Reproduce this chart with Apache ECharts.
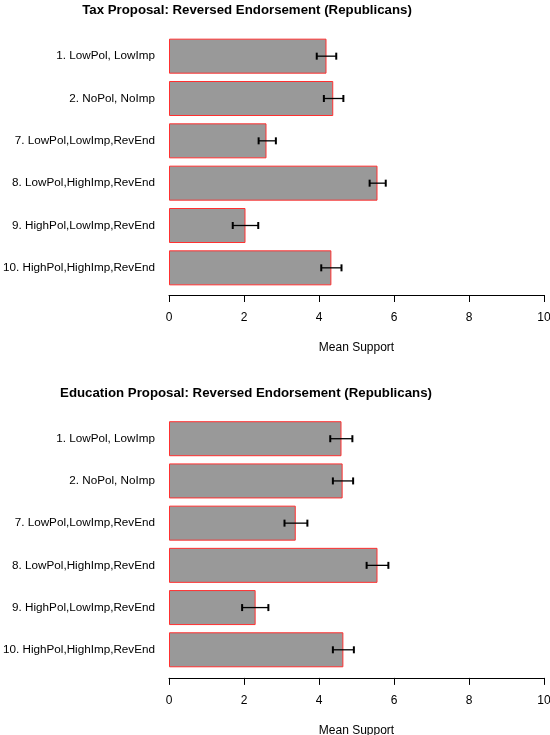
<!DOCTYPE html>
<html>
<head>
<meta charset="utf-8">
<script src="https://cdn.jsdelivr.net/npm/echarts@6/dist/echarts.min.js"></script>
<style>
html,body{margin:0;padding:0;background:#fff;}
#chart{width:550px;height:735px;}
</style>
</head>
<body>
<div id="chart"></div>
<script>
var categories = ["1. LowPol, LowImp","2. NoPol, NoImp","7. LowPol,LowImp,RevEnd","8. LowPol,HighImp,RevEnd","9. HighPol,LowImp,RevEnd","10. HighPol,HighImp,RevEnd"];
var taxMeans = [4.2, 4.38, 2.6, 5.56, 2.04, 4.33];
var taxLow   = [3.94, 4.13, 2.39, 5.35, 1.70, 4.06];
var taxHigh  = [4.46, 4.65, 2.85, 5.78, 2.38, 4.60];
var eduMeans = [4.6, 4.63, 3.38, 5.56, 2.31, 4.65];
var eduLow   = [4.30, 4.37, 3.08, 5.27, 1.95, 4.37];
var eduHigh  = [4.89, 4.91, 3.69, 5.85, 2.65, 4.93];
var xTicks = [0, 2, 4, 6, 8, 10];
var titles = ["Tax Proposal: Reversed Endorsement (Republicans)", "Education Proposal: Reversed Endorsement (Republicans)"];
var axisName = "Mean Support";

var FONT = "Liberation Sans, Arial, Helvetica, sans-serif";
var chart = echarts.init(document.getElementById('chart'), null, {renderer: 'canvas'});

function errData(low, high) {
  return low.map(function (l, i) { return [i, l, high[i]]; });
}
function renderErr(params, api) {
  var cat = api.value(0);
  var p1 = api.coord([api.value(1), cat]);
  var p2 = api.coord([api.value(2), cat]);
  var h = 3.5;
  var st = {stroke: '#000', lineWidth: 1.3};
  return {
    type: 'group',
    children: [
      {type: 'line', shape: {x1: p1[0], y1: p1[1], x2: p2[0], y2: p2[1]}, style: st},
      {type: 'line', shape: {x1: p1[0], y1: p1[1] - h, x2: p1[0], y2: p1[1] + h}, style: {stroke: '#000', lineWidth: 2}},
      {type: 'line', shape: {x1: p2[0], y1: p2[1] - h, x2: p2[0], y2: p2[1] + h}, style: {stroke: '#000', lineWidth: 2}}
    ]
  };
}
function xAx(idx, offset) {
  return {
    type: 'value', gridIndex: idx, min: 0, max: 10, interval: 2, offset: offset,
    name: axisName, nameLocation: 'middle', nameGap: 47,
    nameTextStyle: {fontFamily: FONT, fontSize: 12, color: '#000'},
    axisLine: {show: true, lineStyle: {color: '#000', width: 1}},
    axisTick: {show: true, length: 7, lineStyle: {color: '#000', width: 1}},
    axisLabel: {fontFamily: FONT, fontSize: 12, color: '#000', margin: 17,
      formatter: function (v) { return xTicks.indexOf(v) >= 0 ? String(v) : ''; }},
    splitLine: {show: false}
  };
}
function yAx(idx) {
  return {
    type: 'category', gridIndex: idx, data: categories, inverse: true,
    axisLine: {show: false}, axisTick: {show: false},
    axisLabel: {fontFamily: FONT, fontSize: 11.7, color: '#000', margin: 14}
  };
}
var barStyle = {color: '#999999', borderColor: '#ff3030', borderWidth: 1};

chart.setOption({
  animation: false,
  backgroundColor: '#fff',
  title: [
    {text: titles[0], left: 242, top: -1, textAlign: 'center',
     textStyle: {fontFamily: FONT, fontSize: 13.25, fontWeight: 'bold', color: '#000'}},
    {text: titles[1], left: 241, top: 382, textAlign: 'center',
     textStyle: {fontFamily: FONT, fontSize: 13.25, fontWeight: 'bold', color: '#000'}}
  ],
  grid: [
    {left: 169, width: 375, top: 35, height: 254, outerBoundsMode: 'none', containLabel: false},
    {left: 169, width: 375, top: 417.6, height: 253.3, outerBoundsMode: 'none', containLabel: false}
  ],
  xAxis: [xAx(0, 6), xAx(1, 7)],
  yAxis: [yAx(0), yAx(1)],
  series: [
    {type: 'bar', xAxisIndex: 0, yAxisIndex: 0, data: taxMeans, barWidth: 35, itemStyle: barStyle},
    {type: 'custom', xAxisIndex: 0, yAxisIndex: 0, data: errData(taxLow, taxHigh),
     encode: {x: [1, 2], y: 0}, renderItem: renderErr, z: 10},
    {type: 'bar', xAxisIndex: 1, yAxisIndex: 1, data: eduMeans, barWidth: 35, itemStyle: barStyle},
    {type: 'custom', xAxisIndex: 1, yAxisIndex: 1, data: errData(eduLow, eduHigh),
     encode: {x: [1, 2], y: 0}, renderItem: renderErr, z: 10}
  ]
});
</script>
</body>
</html>
